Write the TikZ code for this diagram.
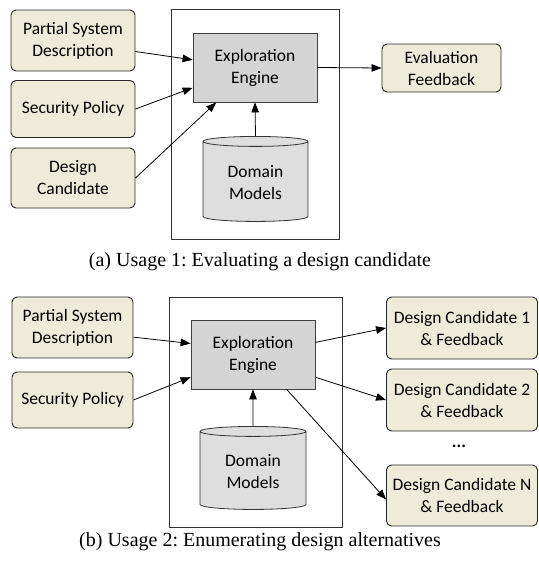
\documentclass[tikz,border=0pt]{standalone}
\usepackage{fontspec}
\setmainfont{Carlito}
\newfontfamily\capfont{Liberation Serif}
\usetikzlibrary{shapes.geometric,arrows.meta}
\definecolor{inbox}{RGB}{238,236,216}
\definecolor{enggray}{RGB}{212,212,212}
\definecolor{dbgray}{RGB}{222,222,222}
\frenchspacing

\begin{document}
\begin{tikzpicture}[x=1pt,y=-1pt,
	box/.style={draw=black!85,line width=0.9pt,rounded corners=5pt,fill=inbox,
		align=center,font=\fontsize{17.5}{22}\selectfont,inner sep=0pt},
	engine/.style={draw=black!75,line width=0.8pt,fill=enggray,align=center,
		minimum width=124pt,minimum height=69pt,font=\fontsize{17.5}{22}\selectfont},
	db/.style={cylinder,shape border rotate=90,aspect=0.16,draw=black!80,
		line width=0.8pt,fill=dbgray,align=center,font=\fontsize{17.5}{22}\selectfont},
	frame/.style={draw=black!80,line width=0.8pt},
	arr/.style={-{Triangle[length=10pt,width=7.5pt]},line width=0.8pt},
	capt/.style={font=\capfont\fontsize{20}{24}\selectfont}]
	\useasboundingbox (0,0) rectangle (538,562);
	% (a) usage 1
	\draw[frame] (171,9) rectangle (339,239);
	\node[box,minimum width=124pt,minimum height=61pt] (psdA) at (73,40.5) {Partial System\\Description};
	\node[box,minimum width=124pt,minimum height=57pt] (spA) at (73,109) {Security Policy};
	\node[box,minimum width=124pt,minimum height=60pt] (dcA) at (73,178) {Design\\Candidate};
	\node[engine] (engA) at (255,67.5) {Exploration\\Engine};
	\node[db,minimum width=105pt,minimum height=85pt] (dmA) at (255.5,182.5) {Domain\\Models};
	\node[box,minimum width=119pt,minimum height=48pt] (efA) at (441.5,68) {Evaluation\\Feedback};
	\draw[arr] (psdA.-10) -- (engA.173);
	\draw[arr] (spA.east) -- (engA.198);
	\draw[arr] (dcA.east) -- (engA.222);
	\draw[arr] (dmA.north) -- (engA.south);
	\draw[arr] (engA.east) -- (efA.west);
	\node[capt] (capA) at (260,262) {(a) Usage 1: Evaluating a design candidate};
	% (b) usage 2
	\draw[frame] (169,297) rectangle (342,527);
	\node[box,minimum width=121pt,minimum height=61pt] (psdB) at (72.5,327.5) {Partial System\\Description};
	\node[box,minimum width=121pt,minimum height=56pt] (spB) at (72.5,400) {Security Policy};
	\node[engine] (engB) at (253,354.5) {Exploration\\Engine};
	\node[db,minimum width=106pt,minimum height=83pt] (dmB) at (253,471.5) {Domain\\Models};
	\node[box,minimum width=151pt,minimum height=62pt] (dcOne) at (462,328) {Design Candidate 1\\\& Feedback};
	\node[box,minimum width=151pt,minimum height=62pt] (dcTwo) at (462,400) {Design Candidate 2\\\& Feedback};
	\node[font=\fontsize{17.5}{22}\selectfont\bfseries] (dots) at (459,446) {...};
	\node[box,minimum width=151pt,minimum height=61pt] (dcN) at (462,495.5) {Design Candidate N\\\& Feedback};
	\draw[arr] (psdB.-9) -- (engB.170);
	\draw[arr] (spB.east) -- (engB.200);
	\draw[arr] (dmB.north) -- (engB.south);
	\draw[arr] (engB.11) -- (dcOne.west);
	\draw[arr] (engB.-20) -- (dcTwo.west);
	\draw[arr] (engB.-46) -- (dcN.183);
	\node[capt] (capB) at (260,542) {(b) Usage 2: Enumerating design alternatives};
\end{tikzpicture}
\end{document}
